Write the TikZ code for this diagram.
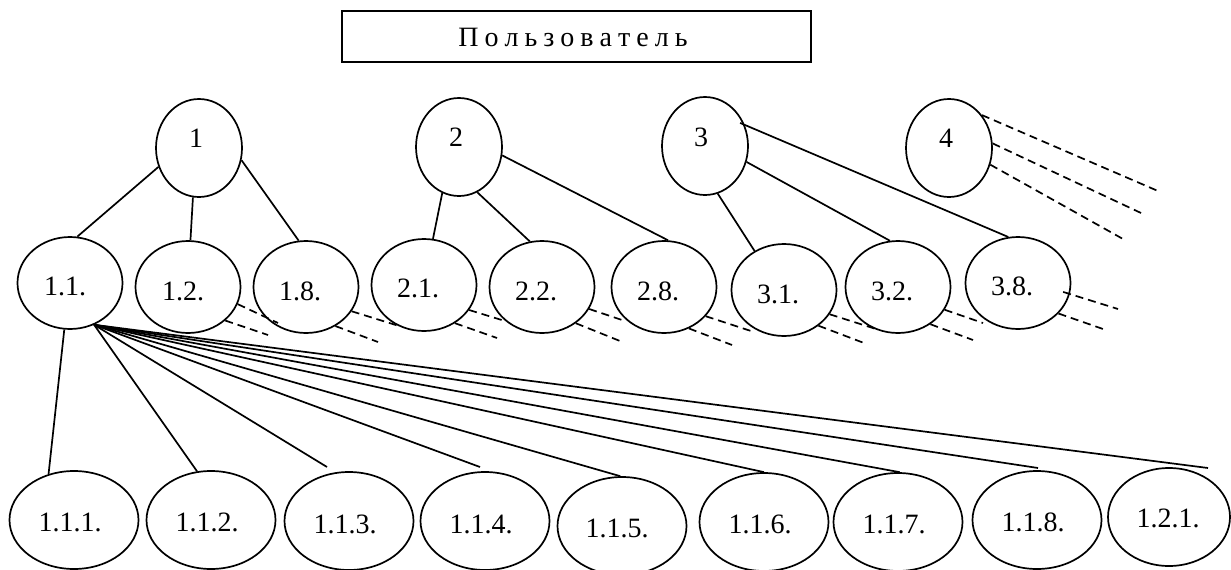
\documentclass[tikz,border=0pt]{standalone}
\usepackage{fontspec}
\setmainfont{Liberation Serif}
\usetikzlibrary{shapes.geometric,calc}
\newcommand{\myls}{\kern6pt}
\newcommand{\mknode}[5]{\node[#1] (#2) at (#3) {};\node[lbl] (#2t) at ($(#2)+(#4)$) {#5};}
\begin{document}
\begin{tikzpicture}[x=1pt,y=-1pt,line width=1.7pt,
  topel/.style={ellipse,draw,inner sep=0pt,minimum width=86pt,minimum height=98pt},
  midel/.style={ellipse,draw,inner sep=0pt,minimum width=105pt,minimum height=92pt},
  botel/.style={ellipse,draw,inner sep=0pt,minimum width=129pt,minimum height=98pt},
  lbl/.style={inner sep=0pt,font=\fontsize{28}{33}\selectfont},
  dsh/.style={dash pattern=on 8pt off 5pt},
  boxst/.style={draw,inner sep=0pt,minimum width=469pt,minimum height=51pt}]
\path[use as bounding box,fill=white] (0,0) rectangle (1231,570);
% user box
\node[boxst] (user) at (576.5,36.5) {};
\node[lbl] (usert) at (573,37.5) {П\myls о\myls л\myls ь\myls з\myls о\myls в\myls а\myls т\myls е\myls л\myls ь};
% top level
\mknode{topel}{n1}{199,148}{-3,-10}{1}
\mknode{topel}{n2}{459,147}{-3,-10}{2}
\mknode{topel}{n3}{705,146}{-4,-9}{3}
\mknode{topel}{n4}{949,148}{-3,-10}{4}
% second level
\mknode{midel}{n11}{70,283}{-5,3}{1.1.}
\mknode{midel}{n12}{188,287}{-5,4}{1.2.}
\mknode{midel}{n18}{306,287}{-6,4}{1.8.}
\mknode{midel}{n21}{424,285}{-6,3}{2.1.}
\mknode{midel}{n22}{542,287}{-6,4}{2.2.}
\mknode{midel}{n28}{664,287}{-6,4}{2.8.}
\mknode{midel}{n31}{784,290}{-6,4}{3.1.}
\mknode{midel}{n32}{898,287}{-6,4}{3.2.}
\mknode{midel}{n38}{1018,283}{-6,3}{3.8.}
% bottom level
\mknode{botel}{n111}{74,520}{-4,2}{1.1.1.}
\mknode{botel}{n112}{211,520}{-4,2}{1.1.2.}
\mknode{botel}{n113}{349,521}{-4,3}{1.1.3.}
\mknode{botel}{n114}{485,521}{-4,3}{1.1.4.}
\mknode{botel}{n115}{622,526}{-5,2}{1.1.5.}
\mknode{botel}{n116}{764,522}{-4,2}{1.1.6.}
\mknode{botel}{n117}{898,522}{-4,2}{1.1.7.}
\mknode{botel}{n118}{1037,520}{-4,2}{1.1.8.}
\node[botel,minimum width=122pt] (n121) at (1169,517) {};
\node[lbl] (n121t) at ($(n121)+(-1,1)$) {1.2.1.};
% solid connectors, level 1 -> 2
\draw (n1.205) -- (n11.81);
\draw (n1.263) -- (n12.87.5);
\draw (n1.344) -- (n18.99);
\draw (n2.250.5) -- (n21.79);
\draw (n2.292) -- (n22.105);
\draw (n2.349.5) -- (n28.85);
\draw (n3.285.5) -- (n31.127);
\draw (n3.339) -- (n32.100.6);
\draw[shorten <=-5pt] (n3.28) -- (n38.102);
% fan from 1.1.
\coordinate (e113) at (327,467);
\coordinate (e114) at (480,467);
\coordinate (e118) at (1038,468);
\coordinate (e121) at (1208,468);
\draw (n11.263) -- (n111.119);
\draw (n11.300) -- (n112.106.6);
\draw (n11.300) -- (e113);
\draw (n11.300) -- (e114);
\draw (n11.300) -- (n115.92);
\draw (n11.300) -- (n116.90);
\draw (n11.300) -- (n117.88);
\draw (n11.300) -- (e118);
\draw (n11.300) -- (e121);
% dashed continuations
\coordinate (d12a) at (278,323);  \coordinate (d12b) at (268,335);
\coordinate (d18a) at (399,326);  \coordinate (d18b) at (378,342);
\coordinate (d21a) at (505,321);  \coordinate (d21b) at (497,338);
\coordinate (d22a) at (625,321);  \coordinate (d22b) at (620,341);
\coordinate (d28a) at (751,331);  \coordinate (d28b) at (732,345);
\coordinate (d31a) at (876,329);  \coordinate (d31b) at (864,343);
\coordinate (d32a) at (983,323);  \coordinate (d32b) at (973,340);
\coordinate (d38a) at (1118,309); \coordinate (d38b) at (1103,329);
\coordinate (d4a) at (1158,191);  \coordinate (d4b) at (1141,213); \coordinate (d4c) at (1123,239);
\draw[dsh] (n12.341) -- (d12a);
\draw[dsh] (n12.318) -- (d12b);
\draw[dsh] (n18.332.5) -- (d18a);
\draw[dsh] (n18.307) -- (d18b);
\draw[dsh] (n21.331) -- (d21a);
\draw[dsh] (n21.309) -- (d21b);
\draw[dsh] (n22.335) -- (d22a);
\draw[dsh] (n22.313) -- (d22b);
\draw[dsh] (n28.325) -- (d28a);
\draw[dsh] (n28.301) -- (d28b);
\draw[dsh] (n31.332.6) -- (d31a);
\draw[dsh] (n31.314) -- (d31b);
\draw[dsh] (n32.334) -- (d32a);
\draw[dsh] (n32.311) -- (d32b);
\draw[dsh,shorten <=-7pt] (n38.348) -- (d38a);
\draw[dsh] (n38.323.6) -- (d38b);
\draw[dsh] (n4.45) -- (d4a);
\draw[dsh] (n4.6.5) -- (d4b);
\draw[dsh] (n4.338.4) -- (d4c);
\end{tikzpicture}
\end{document}
